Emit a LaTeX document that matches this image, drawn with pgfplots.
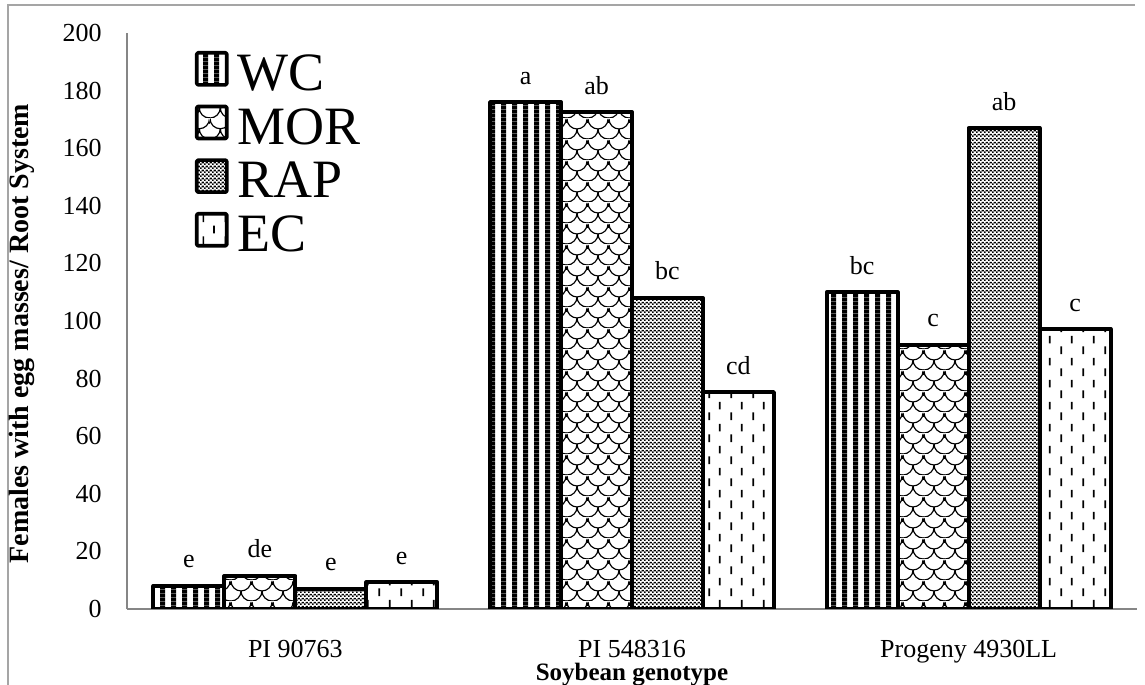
\documentclass[border=0pt]{standalone}
\usepackage{fontspec}
\setmainfont{Liberation Serif}
\usepackage{pgfplots}
\pgfplotsset{compat=1.18}
\usetikzlibrary{patterns.meta}
\definecolor{axisgray}{RGB}{134,134,134}
\definecolor{framegray}{RGB}{165,165,165}

\tikzdeclarepattern{name=wcstripes, type=colored,
  bottom left={(0bp,0bp)}, top right={(5.35bp,2bp)}, tile size={(5.35bp,2bp)},
  code={\fill[black] (0bp,-0.2bp) rectangle (2.6bp,2.2bp);}}
\tikzdeclarepattern{name=checker, type=colored,
  bottom left={(0bp,0bp)}, top right={(2bp,2bp)}, tile size={(2bp,2bp)},
  code={\fill[black] (0bp,0bp) rectangle (1bp,1bp); \fill[black] (1bp,1bp) rectangle (2bp,2bp);}}
\tikzdeclarepattern{name=dashvert, type=colored,
  bottom left={(0bp,0bp)}, top right={(11bp,11bp)}, tile size={(11bp,11bp)},
  code={\draw[black, line width=0.85bp] (2.75bp,0.5bp) -- (2.75bp,4.5bp) (8.25bp,6bp) -- (8.25bp,10bp);}}
\tikzdeclarepattern{name=scales, type=colored,
  bottom left={(0bp,0bp)}, top right={(10.5bp,10.5bp)}, tile size={(10.5bp,10.5bp)},
  code={\draw[black, line width=0.6bp]
    (0bp,10.5bp) arc[start angle=180, end angle=360, radius=5.25bp]
    (-5.25bp,5.25bp) arc[start angle=180, end angle=360, radius=5.25bp]
    (5.25bp,5.25bp) arc[start angle=180, end angle=360, radius=5.25bp];}}

\pgfplotsset{
  legsym/.style={legend image code/.code={\draw[##1, draw=black, line width=1.8bp, line join=round, rounded corners=0.6bp] (0bp,-5.25bp) rectangle (15bp,10.75bp); \path (19.5bp,0bp);}}
}

\begin{document}
\begin{tikzpicture}
\path[use as bounding box] (-63.5bp,-38bp) rectangle (509bp,304.5bp);
\draw[framegray, line width=0.75bp] (-59.5bp,-40bp) -- (-59.5bp,302bp) -- (504bp,302bp);
\begin{axis}[
  at={(0,0)}, anchor=south west,
  scale only axis, width=505bp, height=288bp,
  ybar=0pt, bar width=0.2107,
  xmin=0.5, xmax=3.5, ymin=0, ymax=200,
  xtick={1,2,3}, xticklabels={PI 90763, PI 548316, Progeny 4930LL},
  ytick={0,20,...,200},
  axis x line*=bottom, axis y line*=left,
  axis line style={draw=axisgray, line width=0.75bp, -},
  major tick length=0pt,
  /pgf/number format/assume math mode=true,
  tick label style={font=\fontsize{13bp}{15bp}\selectfont},
  yticklabel style={anchor=east, inner sep=0pt, xshift=-12.5bp},
  xticklabel style={anchor=base, inner sep=0pt, yshift=-24bp},
  xlabel={Soybean genotype},
  ylabel={Females with egg masses/ Root System},
  xlabel style={font=\bfseries\fontsize{12.5bp}{14bp}\selectfont, at={(axis description cs:0.5,0)}, anchor=base, inner sep=0pt, yshift=-35.5bp},
  ylabel style={font=\bfseries\fontsize{14bp}{16bp}\selectfont, at={(axis description cs:0,0.478)}, anchor=center, inner sep=0pt, xshift=0bp, yshift=52.5bp},
  point meta=explicit symbolic,
  nodes near coords,
  nodes near coords style={font=\fontsize{13bp}{15bp}\selectfont, anchor=base, inner sep=0pt, yshift=9bp},
  legend style={at={(axis description cs:0,1)}, anchor=north west, xshift=34bp, yshift=-9bp,
    draw=none, fill=none, inner sep=0pt, outer sep=0pt,
    font=\fontsize{27bp}{29bp}\selectfont, row sep=5.5bp,
    nodes={inner sep=0pt}},
  legend cell align=left,
]
\addplot[draw=black, line width=2bp, line join=round, pattern=wcstripes, legsym]
  coordinates {(1,8) [e] (2,176) [a] (3,110) [bc]};
\addplot[draw=black, line width=2bp, line join=round, pattern=scales, legsym]
  coordinates {(1,11.5) [de] (2,172.5) [ab] (3,91.7) [c]};
\addplot[draw=black, line width=2bp, line join=round, pattern=checker, legsym]
  coordinates {(1,7) [e] (2,108) [bc] (3,167) [ab]};
\addplot[draw=black, line width=2bp, line join=round, pattern=dashvert, legsym]
  coordinates {(1,9.3) [e] (2,75.3) [cd] (3,97.2) [c]};
\legend{WC, MOR, RAP, EC}
\end{axis}
\end{tikzpicture}
\end{document}
